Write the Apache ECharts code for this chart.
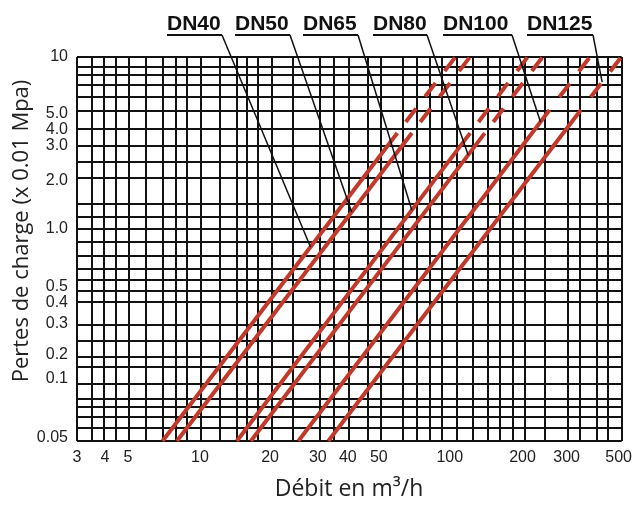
<!DOCTYPE html>
<html><head><meta charset="utf-8">
<script src="https://cdn.jsdelivr.net/npm/echarts@6/dist/echarts.min.js"></script>
<style>html,body{margin:0;padding:0;background:#fff}#c{width:635px;height:507px}</style>
</head><body><div id="c"></div>
<script>
// ---- data ----
const dnNames = ['DN40', 'DN50', 'DN65', 'DN80', 'DN100', 'DN125'];
// solid part of each curve: [flow start, flow end] (m3/h) and [loss start, loss end] (x0.01 MPa)
const solidFlow = [[6.70, 60.8], [7.67, 69.7], [13.47, 120.4], [15.36, 138.2], [24.0, 253.9], [31.8, 340.8]];
const solidLoss = [[0.05, 3.50], [0.05, 3.50], [0.05, 3.50], [0.05, 3.50], [0.05, 4.81], [0.05, 4.81]];
// dashed extension of each curve
const dashFlow = [[65.8, 104.9], [75.4, 120.2], [130.3, 206.7], [149.6, 237.8], [278.7, 370.8], [374.2, 498]];
const dashLoss = [[4.08, 10], [4.08, 10], [4.08, 10], [4.08, 10], [5.76, 10], [5.76, 10]];
// loss value where each label's leader touches its curve
const leaderLoss = [0.727, 1.178, 1.211, 2.587, 4.078, 7.08];

// axis tick labels and where they sit on the (hand drawn) scales
const flowTickText = ['3', '4', '5', '10', '20', '30', '40', '50', '100', '200', '300', '500'];
const flowTickAt = [3.0, 3.9, 4.84, 9.52, 18.4, 28.8, 38.2, 51.1, 99.5, 197, 298, 486];
const lossTickText = ['0.05', '0.1', '0.2', '0.3', '0.4', '0.5', '1.0', '2.0', '3.0', '4.0', '5.0', '10'];
const lossTickAt = [0.0521, 0.1176, 0.1638, 0.2512, 0.3357, 0.4186, 0.932, 1.807, 2.93, 3.65, 4.555, 10];

// grid lines of the nomogram
const gridFlow = [3, 3.444, 3.840, 4.326, 4.856, 5.734, 6.708, 7.599, 8.404, 9.608, 11.48, 13.43, 14.75, 16.45,
  18.66, 22.85, 29.36, 33.48, 38.66, 46.20, 51.90, 64.18, 72.79, 82.46, 92.05, 105.9, 123.1, 142.5, 159.1,
  179.2, 201.2, 242.7, 302.0, 337.1, 394.2, 439.6, 500];
const gridLoss = [10, 8.71, 7.80, 6.80, 5.76, 4.75, 3.70, 2.93, 2.35, 1.88, 1.316, 1.115, 0.932, 0.779, 0.642,
  0.537, 0.461, 0.402, 0.345, 0.248, 0.196, 0.162, 0.137, 0.111, 0.0930, 0.0800, 0.0687, 0.0582, 0.05];

const xTitle = 'Débit en m³/h';
const yTitle = 'Pertes de charge (x 0.01 Mpa)';

// ---- chart ----
const RED = '#c0392b';
const INK = '#121212';
const chart = echarts.init(document.getElementById('c'), null, { renderer: 'canvas' });

function nearestText(v, at, text) {
  let best = 0, bd = Infinity;
  at.forEach((a, i) => { const d = Math.abs(Math.log(a) - Math.log(v)); if (d < bd) { bd = d; best = i; } });
  return text[best];
}

const series = [];
dnNames.forEach((n, i) => {
  series.push({
    name: n, type: 'line', symbol: 'none', silent: true, z: 3,
    data: [[solidFlow[i][0], solidLoss[i][0]], [solidFlow[i][1], solidLoss[i][1]]],
    lineStyle: { color: RED, width: 4, cap: 'butt' }
  });
  series.push({
    name: n + ' (ext)', type: 'line', symbol: 'none', silent: true, z: 3,
    data: [[dashFlow[i][0], dashLoss[i][0]], [dashFlow[i][1], dashLoss[i][1]]],
    lineStyle: { color: RED, width: 4, type: [17, 15], cap: 'butt' }
  });
});
series.push({
  name: 'grid', type: 'line', symbol: 'none', silent: true, data: [[3, 0.05]],
  lineStyle: { width: 0 },
  markLine: {
    silent: true, symbol: 'none', z: 1, animation: false,
    label: { show: false },
    lineStyle: { color: INK, width: 2, type: 'solid' },
    data: gridFlow.map(v => ({ xAxis: v })).concat(gridLoss.map(v => ({ yAxis: v })))
  }
});

chart.setOption({
  animation: false,
  backgroundColor: '#fff',
  grid: { left: 77, top: 57, width: 545, height: 384, containLabel: false },
  xAxis: {
    type: 'log', logBase: 10, min: 3, max: 500,
    axisLine: { show: false }, axisTick: { show: false }, splitLine: { show: false },
    axisLabel: {
      customValues: flowTickAt, margin: 9,
      fontFamily: 'Liberation Sans', fontSize: 16, color: '#222',
      formatter: v => nearestText(v, flowTickAt, flowTickText)
    }
  },
  yAxis: {
    type: 'log', logBase: 10, min: 0.05, max: 10,
    axisLine: { show: false }, axisTick: { show: false }, splitLine: { show: false },
    axisLabel: {
      customValues: lossTickAt, margin: 9,
      fontFamily: 'Liberation Sans', fontSize: 16, color: '#222',
      formatter: v => nearestText(v, lossTickAt, lossTickText)
    }
  },
  series: series
});

// ---- annotations: labels with leader lines to their curves ----
const labelLeft = [167, 235, 303, 373, 443, 527];
const labelRight = [222, 290, 358, 427, 512, 593];
const gfx = [];
dnNames.forEach((n, i) => {
  const p0 = chart.convertToPixel({ gridIndex: 0 }, [solidFlow[i][0], solidLoss[i][0]]);
  const p1 = chart.convertToPixel({ gridIndex: 0 }, [dashFlow[i][1], dashLoss[i][1]]);
  const py = chart.convertToPixel({ gridIndex: 0 }, [solidFlow[i][0], leaderLoss[i]])[1];
  const t = (py - p0[1]) / (p1[1] - p0[1]);
  const px = p0[0] + t * (p1[0] - p0[0]);
  gfx.push({
    type: 'text', x: labelLeft[i], y: 24, z: 20, silent: true,
    style: { text: n, font: 'bold 21px "Liberation Sans"', fill: '#111', align: 'left', verticalAlign: 'middle', textAlign: 'left', textVerticalAlign: 'middle' }
  });
  gfx.push({
    type: 'line', z: 20, silent: true,
    shape: { x1: labelLeft[i], y1: 35, x2: labelRight[i], y2: 35 },
    style: { stroke: '#111', lineWidth: 2 }
  });
  gfx.push({
    type: 'line', z: 20, silent: true,
    shape: { x1: labelRight[i], y1: 35, x2: px, y2: py },
    style: { stroke: '#111', lineWidth: 1.5 }
  });
});
gfx.push({
  type: 'text', x: 349, y: 489, silent: true,
  style: { text: xTitle, font: '23px "Open Sans"', fill: '#222', align: 'center', verticalAlign: 'middle', textAlign: 'center', textVerticalAlign: 'middle' }
});
gfx.push({
  type: 'text', x: 22, y: 231, rotation: Math.PI / 2, silent: true,
  style: { text: yTitle, font: '22px "Open Sans"', fill: '#222', align: 'center', verticalAlign: 'middle', textAlign: 'center', textVerticalAlign: 'middle' }
});
chart.setOption({ graphic: gfx });
</script>
</body></html>
